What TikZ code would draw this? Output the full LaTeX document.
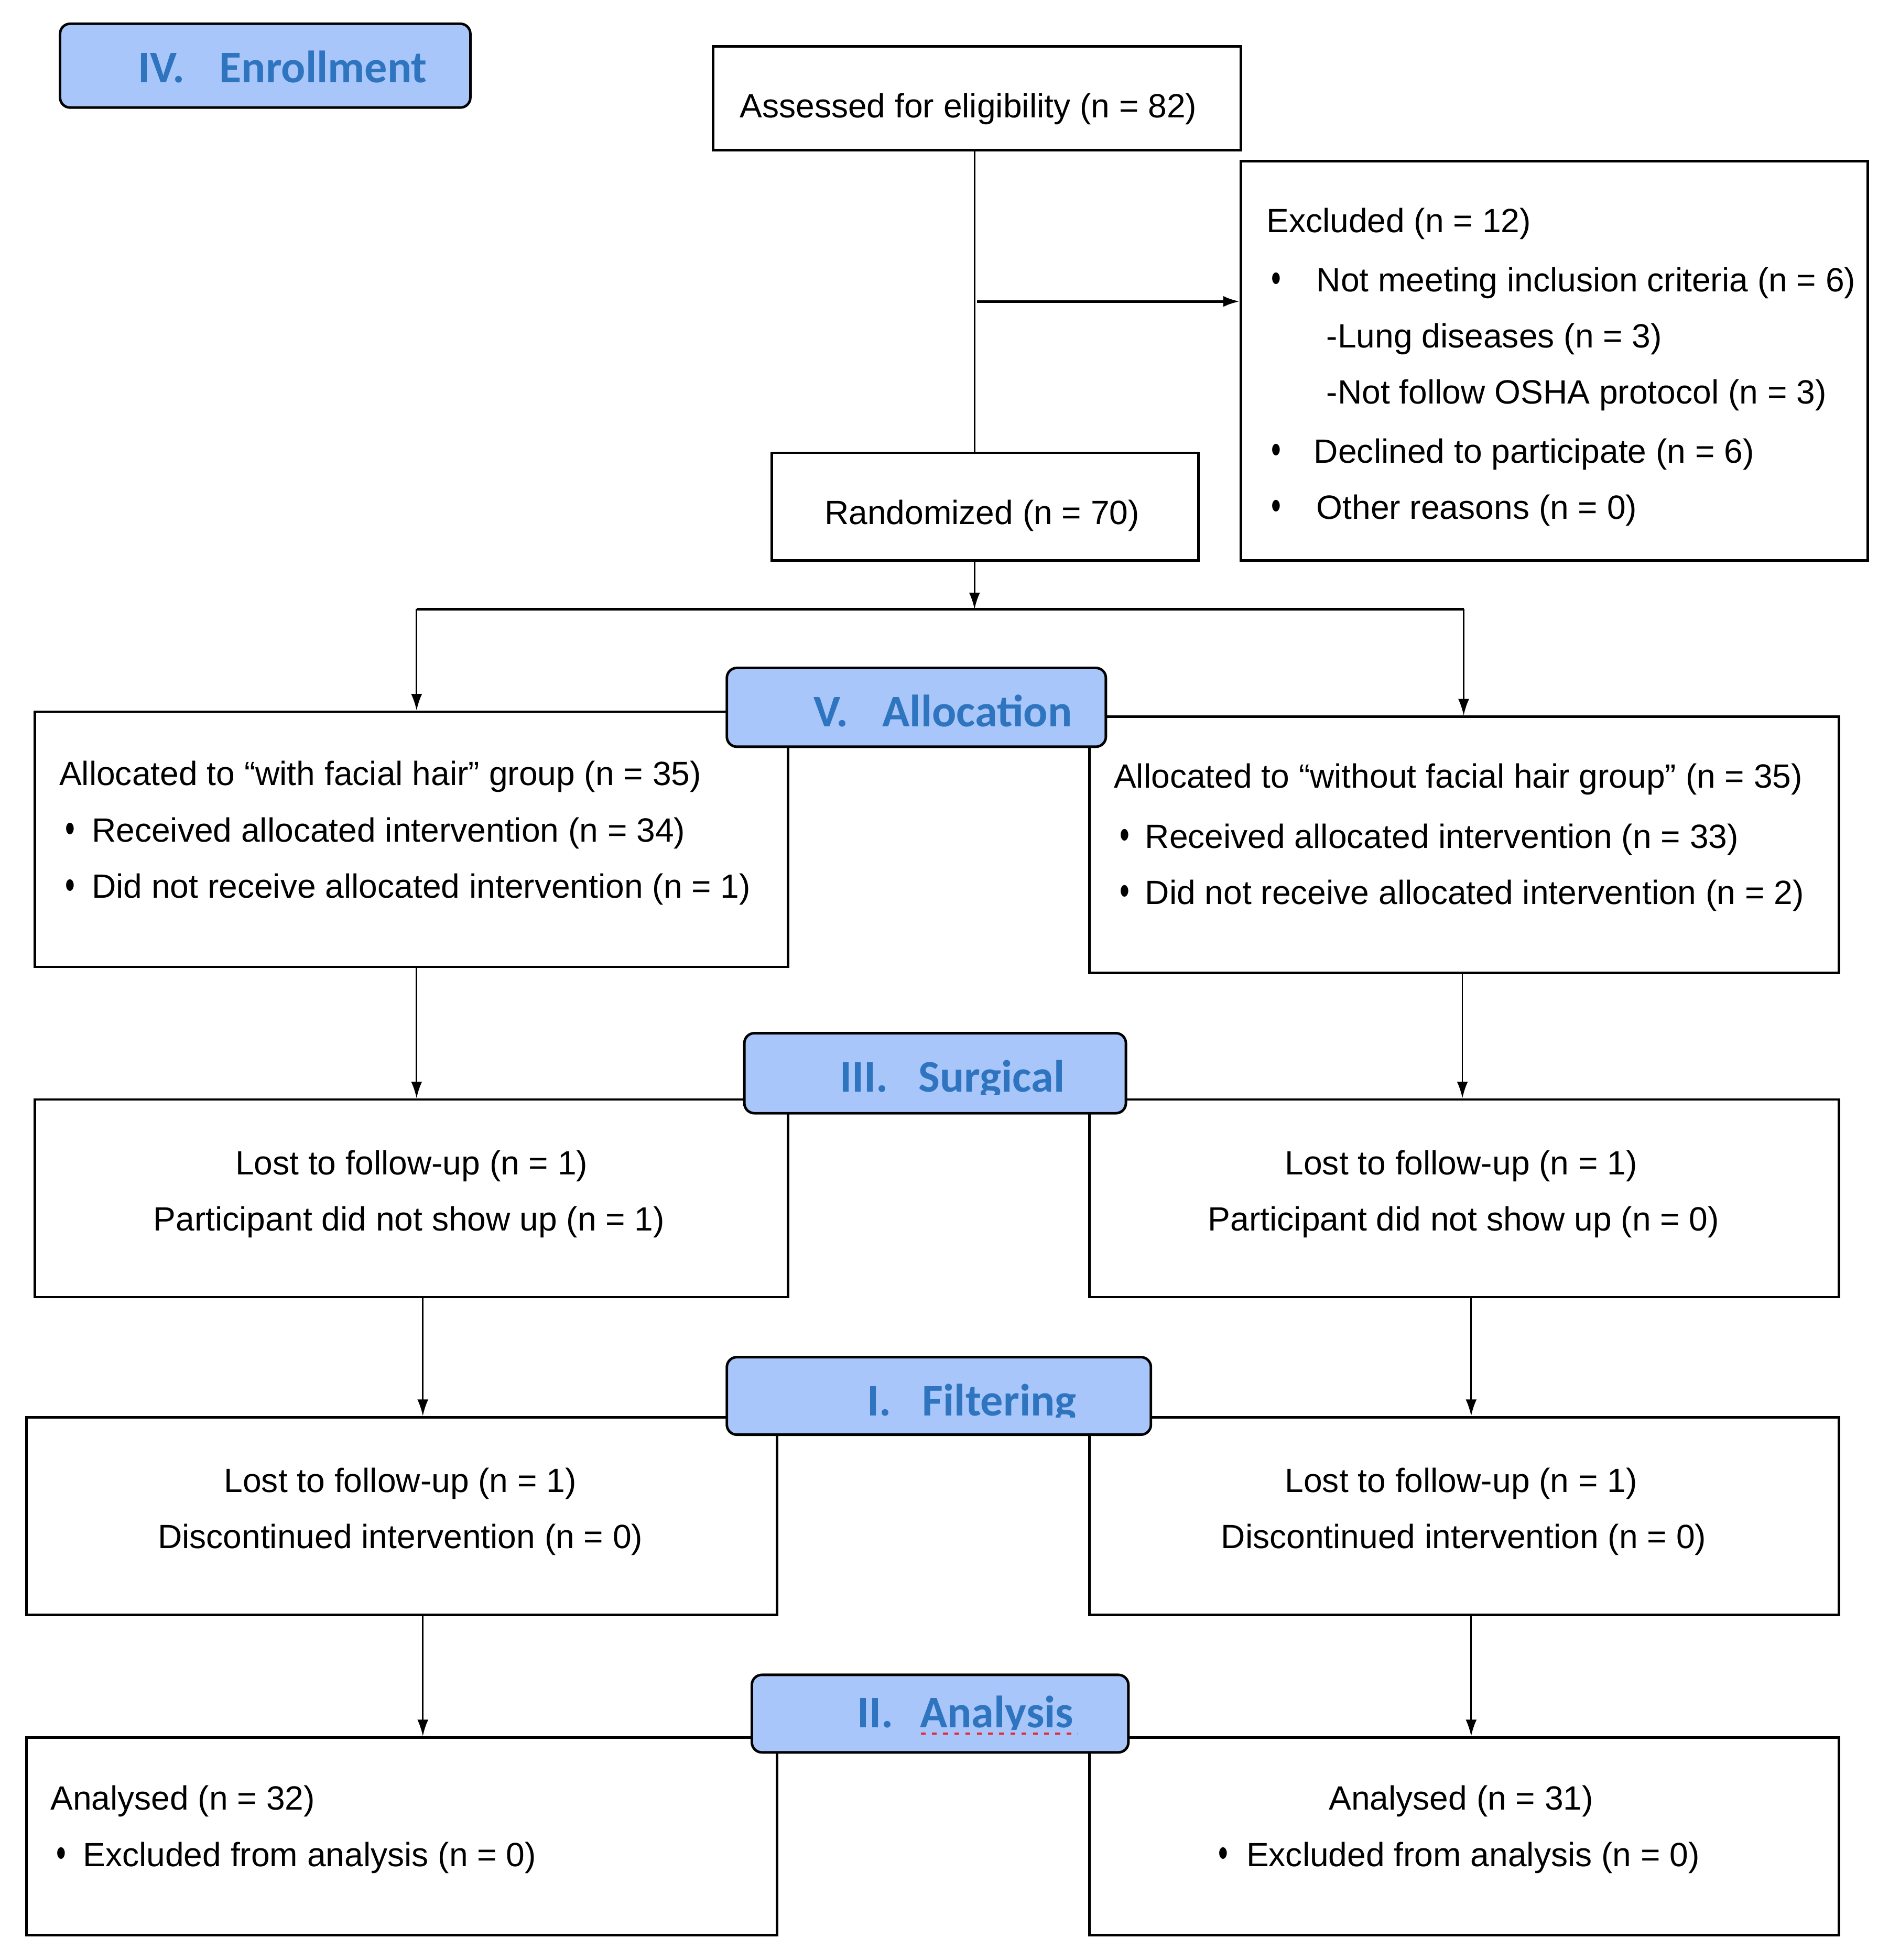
\documentclass[tikz,border=0pt]{standalone}
\usepackage{fontspec}
\setmainfont{Liberation Sans}
\newfontfamily\calib{Carlito}
\usetikzlibrary{arrows.meta,fit}
\definecolor{labfill}{RGB}{169,198,250}
\definecolor{labtext}{RGB}{46,116,190}
\definecolor{spellred}{RGB}{230,40,50}
\newcommand{\blt}{\scalebox{0.85}[1.3]{•}}
\begin{document}
\begin{tikzpicture}[x=0.02cm,y=-0.02cm,
  box/.style={draw=black, line width=1.15pt, inner sep=0pt, fill=white},
  labbox/.style={draw=black, line width=1.15pt, fill=labfill, rounded corners=0.16cm, inner sep=0pt},
  txt/.style={font=\fontsize{15.3}{18}\selectfont, inner sep=0pt, anchor=base west},
  ctxt/.style={font=\fontsize{15.3}{18}\selectfont, inner sep=0pt, anchor=base},
  bul/.style={font=\fontsize{15}{18}\selectfont, inner sep=0pt, anchor=center},
  labtxt/.style={font=\calib\bfseries\fontsize{20.6}{24}\selectfont, text=labtext, inner sep=0pt, anchor=base west},
  thinline/.style={line width=0.65pt},
  thickline/.style={line width=1.1pt},
  arr/.style={-{Latex[length=7.5pt,width=5pt]}},
]
\useasboundingbox (0,0) rectangle (1510,1567);

% ---------- boxes ----------
\node[box, fit={(570,37) (992,120)}] (assess) {};
\node[box, fit={(992,129) (1493,448)}] (excl) {};
\node[box, fit={(617,362) (958,448)}] (rand) {};
\node[box, fit={(28,569) (630,773)}] (allocL) {};
\node[box, fit={(871,573) (1470,778)}] (allocR) {};
\node[box, fit={(28,879) (630,1037)}] (surgL) {};
\node[box, fit={(871,879) (1470,1037)}] (surgR) {};
\node[box, fit={(21,1133) (621,1291)}] (filtL) {};
\node[box, fit={(871,1133) (1470,1291)}] (filtR) {};
\node[box, fit={(21,1389) (621,1547)}] (analL) {};
\node[box, fit={(871,1389) (1470,1547)}] (analR) {};

% ---------- texts ----------
\node[txt] (tassess) at (591,94) {Assessed for eligibility (n = 82)};

\node[txt] (ex0) at (1012,186) {Excluded (n = 12)};
\node[bul] (exb1) at (1020,226) {\blt};
\node[txt] (ex1) at (1052,233) {Not meeting inclusion criteria (n = 6)};
\node[txt] (ex2) at (1060,278) {-Lung diseases (n = 3)};
\node[txt] (ex3) at (1060,323) {-Not follow OSHA protocol (n = 3)};
\node[bul] (exb4) at (1020,363) {\blt};
\node[txt] (ex4) at (1050,370) {Declined to participate (n = 6)};
\node[bul] (exb5) at (1020,408) {\blt};
\node[txt] (ex5) at (1052,415) {Other reasons (n = 0)};

\node[ctxt] (trand) at (785,419) {Randomized (n = 70)};

\node[txt] (al0) at (47,628) {Allocated to “with facial hair” group (n = 35)};
\node[bul] (alb1) at (56,666) {\blt};
\node[txt] (al1) at (73,673) {Received allocated intervention (n = 34)};
\node[bul] (alb2) at (56,711) {\blt};
\node[txt] (al2) at (73,718) {Did not receive allocated intervention (n = 1)};

\node[txt] (ar0) at (890,630) {Allocated to “without facial hair group” (n = 35)};
\node[bul] (arb1) at (899,671) {\blt};
\node[txt] (ar1) at (915,678) {Received allocated intervention (n = 33)};
\node[bul] (arb2) at (899,716) {\blt};
\node[txt] (ar2) at (915,723) {Did not receive allocated intervention (n = 2)};

\node[ctxt] (sl1) at (329,939) {Lost to follow-up (n = 1)};
\node[ctxt] (sl2) at (327,984) {Participant did not show up (n = 1)};
\node[ctxt] (sr1) at (1168,939) {Lost to follow-up (n = 1)};
\node[ctxt] (sr2) at (1170,984) {Participant did not show up (n = 0)};

\node[ctxt] (fl1) at (320,1193) {Lost to follow-up (n = 1)};
\node[ctxt] (fl2) at (320,1238) {Discontinued intervention (n = 0)};
\node[ctxt] (fr1) at (1168,1193) {Lost to follow-up (n = 1)};
\node[ctxt] (fr2) at (1170,1238) {Discontinued intervention (n = 0)};

\node[txt] (nl1) at (40,1447) {Analysed (n = 32)};
\node[bul] (nlb2) at (49,1485) {\blt};
\node[txt] (nl2) at (66,1492) {Excluded from analysis (n = 0)};
\node[ctxt] (nr1) at (1168,1447) {Analysed (n = 31)};
\node[bul] (nrb2) at (978,1485) {\blt};
\node[txt] (nr2) at (996,1492) {Excluded from analysis (n = 0)};

% ---------- connectors ----------
\coordinate (trunk) at (779,0);
\coordinate (exarr) at (781,241);
\coordinate (split) at (779,487);
\coordinate (splitL) at (333,487);
\coordinate (splitR) at (1170,487);
\coordinate (colA) at (333,0);
\coordinate (colB) at (1169,0);
\coordinate (colC) at (338,0);
\coordinate (colD) at (1176,0);

\draw[thinline] (trunk |- assess.south) -- (trunk |- rand.north);
\draw[thickline, arr] (exarr) -- (exarr -| excl.west);
\draw[thinline, arr] (trunk |- rand.south) -- (split);
\draw[thickline] (splitL) -- (splitR);
\draw[thinline, arr] (splitL) -- (splitL |- allocL.north);
\draw[thinline, arr] (splitR) -- (splitR |- allocR.north);

\draw[thinline, arr] (colA |- allocL.south) -- (colA |- surgL.north);
\draw[thinline, arr] (colB |- allocR.south) -- (colB |- surgR.north);
\draw[thinline, arr] (colC |- surgL.south) -- (colC |- filtL.north);
\draw[thinline, arr] (colD |- surgR.south) -- (colD |- filtR.north);
\draw[thinline, arr] (colC |- filtL.south) -- (colC |- analL.north);
\draw[thinline, arr] (colD |- filtR.south) -- (colD |- analR.north);

% ---------- stage labels ----------
\node[labbox, fit={(48,19) (376,86)}] (enr) {};
\node[labtxt] (enrn) at (110,66) {IV.};
\node[labtxt] (enrw) at (175,66) {Enrollment};

\node[labbox, fit={(581,534) (884,597)}] (alo) {};
\node[labtxt] (alon) at (650,581) {V.};
\node[labtxt] (alow) at (705,581) {Allocation};

\node[labbox, fit={(595,826) (900,890)}] (sur) {};
\begin{scope}
\clip (600,830) rectangle (895,875);
\node[labtxt] (surn) at (671,873) {III.};
\node[labtxt] (surw) at (734,873) {Surgical};
\end{scope}

\node[labbox, fit={(581,1085) (920,1147)}] (fil) {};
\begin{scope}
\clip (586,1089) rectangle (915,1133);
\node[labtxt] (filn) at (693,1132) {I.};
\node[labtxt] (filw) at (737,1132) {Filtering};
\end{scope}

\node[labbox, fit={(601,1339) (902,1401)}] (ana) {};
\begin{scope}
\clip (606,1343) rectangle (897,1383);
\node[labtxt] (anan) at (685,1381) {II.};
\node[labtxt] (anaw) at (735,1381) {Analysis};
\end{scope}
\coordinate (sq1) at (736,1386);
\coordinate (sq2) at (862,1386);
\draw[spellred, line width=1pt, dash pattern=on 2.2pt off 2.9pt] (sq1) -- (sq2);

\end{tikzpicture}
\end{document}
